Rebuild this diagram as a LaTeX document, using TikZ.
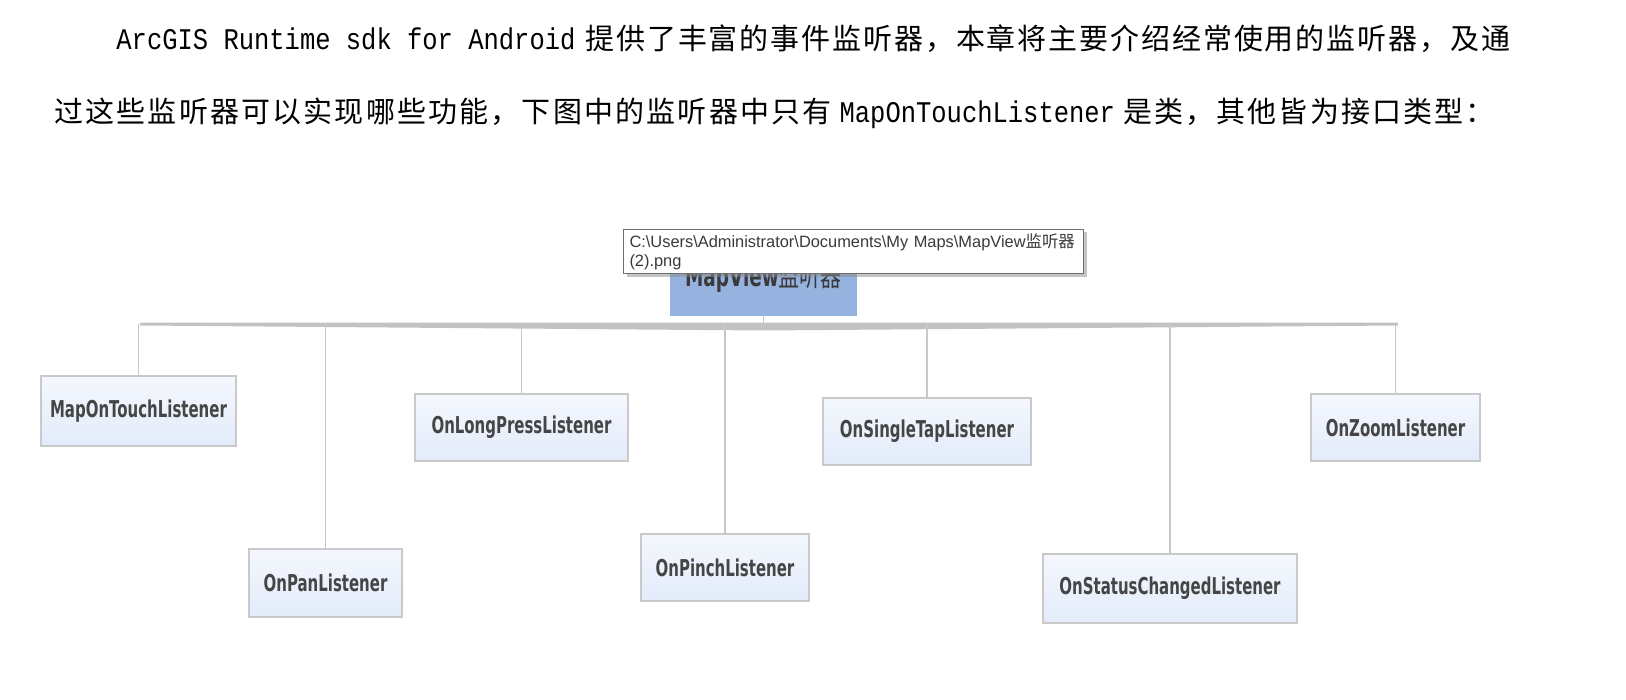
\documentclass[tikz,border=0pt]{standalone}
\usepackage{fontspec}
\usetikzlibrary{shadows}
\setmainfont{Liberation Sans}
\newfontfamily\latinmono{Liberation Mono}[FakeStretch=0.85]
\newfontfamily\cjka{Noto Sans CJK SC}[LetterSpace=6.5]
\newfontfamily\cjkb{Noto Sans CJK SC}[LetterSpace=7.5]
\newfontfamily\cjkplain{Noto Sans CJK SC}
\newfontfamily\cjknarrow{Noto Sans CJK SC}[FakeStretch=0.75]
\newfontfamily\lblfont{DejaVu Sans}[FakeStretch=0.645]
\definecolor{boxborder}{HTML}{C9C9C9}
\definecolor{boxtop}{HTML}{F4F7FD}
\definecolor{boxbot}{HTML}{E3EBFA}
\definecolor{lbltext}{HTML}{454545}
\definecolor{mapblue}{HTML}{95B3DE}
\definecolor{mvtext}{HTML}{3A3A3A}
\definecolor{connc}{HTML}{C8C8C8}
\definecolor{busc}{HTML}{C2C2C2}
\definecolor{tipborder}{HTML}{6E6E6E}
\definecolor{tiptext}{HTML}{3A3A3A}
\begin{document}
\begin{tikzpicture}[x=0.5pt,y=-0.5pt,
  lbox/.style={draw=boxborder, line width=0.75pt, top color=boxtop, bottom color=boxbot,
    font=\lblfont\bfseries\fontsize{11.6}{13}\selectfont, text=lbltext, inner sep=0pt},
  conn/.style={draw=connc, line width=0.75pt},
  bodytext/.style={anchor=base west, inner sep=0pt, text=black},
  tipbox/.style={draw=tipborder, line width=0.5pt, fill=white, anchor=north west,
    font=\fontsize{8.2}{9.5}\selectfont, text=tiptext, align=left, text width=224pt,
    inner xsep=3pt, inner ysep=2pt, minimum width=230pt, minimum height=22pt,
    drop shadow={shadow xshift=1.5pt, shadow yshift=-1.5pt, fill=black!45}},
]
\path[fill=white, use as bounding box] (0,0) rectangle (1626,700);

% paragraph text
\node[bodytext] (t1) at (116,50)
  {{\fontsize{15}{16}\selectfont\latinmono ArcGIS Runtime sdk for Android}\hspace{5pt}{\fontsize{14.5}{16}\selectfont\cjka 提供了丰富的事件监听器，本章将主要介绍经常使用的监听器，及通}};
\node[bodytext] (t2) at (54,123)
  {{\fontsize{14.5}{16}\selectfont\cjkb 过这些监听器可以实现哪些功能，下图中的监听器中只有}\hspace{4pt}{\fontsize{15}{16}\selectfont\latinmono MapOnTouchListener}\hspace{4pt}{\fontsize{14.5}{16}\selectfont\cjkb 是类，其他皆为接口类型：}};

% bus
\coordinate (bus) at (763,324);
\coordinate (busL) at (140,322.5);
\coordinate (busR) at (1398,322.5);
\fill[busc] (busL) -- (busR) -- ++(0,3) -- (763,330.5) -- (140,325.5) -- cycle;

% root
\node[fill=mapblue, minimum width=93.5pt, minimum height=38pt, inner sep=0pt,
  font=\lblfont\bfseries\fontsize{14.3}{16}\selectfont, text=mvtext] (mapview) at (763.5,278)
  {\raisebox{-3.5pt}{MapView{\cjknarrow\mdseries\fontsize{14}{16}\selectfont 监听器}}};

% children
\node[lbox, minimum width=97.5pt, minimum height=35pt] (mot) at (138.5,411) {MapOnTouchListener};
\node[lbox, minimum width=106.5pt, minimum height=33.5pt] (lpl) at (521.5,427.5) {OnLongPressListener};
\node[lbox, minimum width=104pt, minimum height=33.5pt] (stl) at (927,431.5) {OnSingleTapListener};
\node[lbox, minimum width=84.5pt, minimum height=33.5pt] (zml) at (1395.5,427.5) {OnZoomListener};
\node[lbox, minimum width=76.5pt, minimum height=34pt] (pan) at (325.5,583) {OnPanListener};
\node[lbox, minimum width=84pt, minimum height=33.5pt] (pinch) at (725,567.5) {OnPinchListener};
\node[lbox, minimum width=127pt, minimum height=34.5pt] (status) at (1170,588.5) {OnStatusChangedListener};

% connectors
\draw[conn] (mapview.south) -- (mapview.south |- bus);
\foreach \n in {mot,lpl,stl,zml,pan,pinch,status}
  \draw[conn] (\n.north) -- (\n.north |- bus);

% tooltip
\node[tipbox] (tip) at (623,229)
  {C:\textbackslash Users\textbackslash Administrator\textbackslash Documents\textbackslash My Maps\textbackslash MapView{\cjkplain 监听器}\\(2).png};
\end{tikzpicture}
\end{document}
